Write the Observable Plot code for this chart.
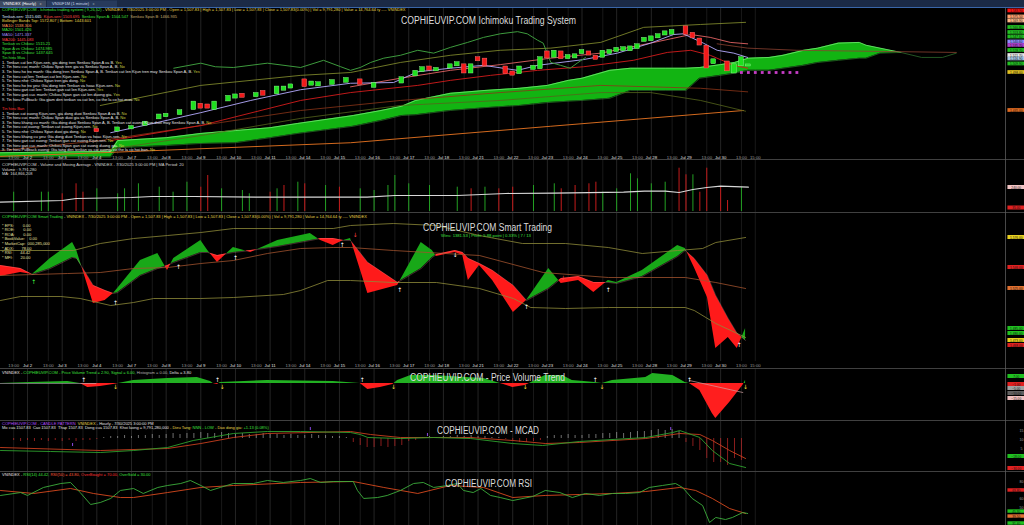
<!DOCTYPE html>
<html><head><meta charset="utf-8">
<script src="https://cdn.jsdelivr.net/npm/d3@7"></script>
<script src="https://cdn.jsdelivr.net/npm/@observablehq/plot@0.6"></script>
<style>
html,body{margin:0;padding:0;background:#000;overflow:hidden}
#root{position:relative;width:1024px;height:525px;background:#000;overflow:hidden}
#root > div{position:absolute;left:0}
#root svg{display:block}
</style></head>
<body><div id="root"></div>
<script>
// ================= DATA =================
const dayLabels = ["Jul 2","Jul 3","Jul 4","Jul 7","Jul 8","Jul 9","Jul 10","Jul 11","Jul 14","Jul 15","Jul 16","Jul 17","Jul 18","Jul 21","Jul 22","Jul 23","Jul 24","Jul 25","Jul 28","Jul 29","Jul 30"];

// Panel 1 – candles (bar index, open, close)
const candleIdx   = [15,18,20,22,24,25,27,29,30,31,32,34,35,36,38,39,41,42,43,45,46,47,49,51,53,55,59,61,62,63,64,66,67,68,69,70,71,74,75,76,78,79,80,81,82,83,84,85,86,87,88,89,90,91,92,93,94,95,96,97,98,100,101,102,103,104,106,107,108,109];
const candleOpen  = [1418,1417,1420,1425,1434,1437,1440,1447,1453,1452,1447,1459,1463,1467,1465,1471,1469,1474,1477,1487,1481,1480,1482,1485,1487,1478,1484,1494,1500,1505,1501,1505,1508,1508,1498,1518,1516,1505,1498,1497,1503,1504,1526,1520,1526,1518,1519,1525,1526,1520,1520,1525,1528,1529,1529,1532,1542,1543,1547,1551,1552,1561,1552,1544,1534,1511,1512,1498,1508,1507.83];
const candleClose = [1416,1420,1422,1428,1438,1439,1444,1456,1449,1449,1456,1464,1466,1464,1468,1467,1477,1477,1480,1479,1484,1483,1486,1489,1482,1482,1490,1499,1504,1502,1503,1508,1511,1498,1508,1515,1508,1497,1495,1505,1506,1518,1519,1527,1518,1521,1522,1528,1523,1517,1527,1528,1531,1532,1533,1536,1545,1547,1550,1554,1556,1552,1547,1537,1505,1515,1501,1508,1518,1507.83];

// Panel 1 – Ichimoku cloud (Senkou Span A / B)
const cloudIdx = [1,17,18,25,30,35,40,44,52,56,59,61,66,71,76,80,83,85,89,92,97,100,102,105,107,109,112,114,117,119,122,125,126,128,131];
const spanA    = [1386,1388,1403,1407,1413,1417,1421,1427,1438,1445,1451,1459,1469,1473,1476,1480,1487,1490,1501,1504,1504,1504,1505,1509,1512,1518,1519,1522,1529,1532,1539,1540,1536,1532,1526];
const spanB    = [1380,1380,1393,1396,1399,1400,1407,1413,1423,1431,1438,1439,1445,1449,1452,1456,1458,1459,1462,1473,1473,1473,1490,1494,1497,1501,1501,1504,1508,1512,1515,1518,1518,1525,1526];
const tailIdx  = [131,134,137,139];
const tailVal  = [1526,1519,1519,1525];

// Panel 1 – lines
const tenkanIdx = [17.0,22.7,30.0,37.2,44.4,51.6,57.8,61.3,66.0,70.8,75.7,78.6,85.2,90.1,94.9,98.2,99.6,102.5,104.5,106.9,108.9];
const tenkanVal = [1414,1426,1442,1459,1474,1483,1484,1499,1504,1508,1501,1508,1516,1525,1539,1551,1552,1539,1529,1525,1519];
const kijunIdx  = [17.0,30.0,44.4,51.6,61.3,66.0,71.8,78.6,85.2,92.4,97.3,100.7,103.5,106.9,108.9];
const kijunVal  = [1403,1424,1459,1470,1480,1487,1494,1501,1506,1515,1526,1529,1522,1508,1504];
const ma10Idx   = [51.6,58.8,66.0,73.2,80.5,87.7,94.9,100.7,103.5,106.4,108.9];
const ma10Val   = [1478,1490,1501,1509,1518,1525,1539,1551,1547,1540,1538];
const ma50Idx   = [1.1,15.5,30.0,44.4,58.8,73.2,87.7,102.1,108.9];
const ma50Val   = [1389,1403,1424,1445,1459,1470,1480,1476,1471];
const ma200Idx  = [1.1,15.5,51.6,80.5,108.3];
const ma200Val  = [1381,1386,1400,1423,1445];
const bbTopIdx  = [15.5,30.0,44.4,51.6,58.8,66.0,73.2,80.5,87.7,93.9,102.1,108.6];
const bbTopVal  = [1452,1480,1494,1498,1512,1522,1529,1532,1540,1561,1565,1568];
const bbBotIdx  = [15.5,30.0,44.4,58.8,73.2,87.7,94.9,102.1,108.6];
const bbBotVal  = [1389,1410,1434,1452,1459,1470,1470,1459,1444];
const chikouIdx = [26.1,30.0,32.1,34.7,39.6,44.4,47.7,50.2,51.6,53.0,54.5,56.4,58.8,61.3,63.6,66.0,68.5,70.8,73.2,75.7,77.1,78.6,79.4,80.5,81.9,83.3,84.3,85.5];
const chikouVal = [1504,1511,1506,1505,1511,1505,1515,1506,1501,1505,1512,1518,1522,1529,1525,1533,1540,1547,1552,1555,1552,1543,1539,1512,1508,1504,1511,1519];
const projIdx   = [104.5,108.9,116,139];
const projVal   = [1538,1532,1529,1526];
const dotIdx    = [108,109,110,111,112,113,114,115,116];
const dotVal    = 1498;
const p1LabVal  = [1583.9,1575.5,1569.9,1560.8,1553.8,1547.6,1540.6,1535.7,1528.7,1521.7,1516.9,1509.9,1498.0,1445.0];
const p1LabCol  = ["#ff1010","#ffa070","#ffb888","#22c022","#22c022","#22c022","#8c8cff","#b040d0","#22c022","#e8e8e8","#a8c8e8","#22c022","#e0c020","#e06a20"];

// Panel 2 – volume (million shares) & MA(20)
const volIdx = [3,7,8,10,12,13,15,18,19,21,24,26,28,30,31,33,36,37,40,41,42,44,45,48,50,53,55,57,58,60,63,67,69,71,73,75,78,81,82,84,86,87,88,90,92,93,95,97,99,100,101,102,103,105,106,108];
const volVal = [193,193,193,177,277,193,227,177,227,277,243,193,293,243,360,227,210,177,193,227,260,293,277,260,243,227,210,260,360,277,260,243,227,243,227,243,260,277,227,260,277,293,193,227,377,327,277,293,433,367,367,193,433,243,110,243];
const volUp  = [1,1,1,0,0,0,1,1,1,1,1,1,1,0,0,1,1,1,0,1,0,1,0,1,0,1,1,1,1,1,1,1,0,1,0,0,1,1,0,0,0,0,1,1,1,1,1,1,0,0,1,0,0,0,0,1];
const vmaIdx = [1,10,12,20,23,29,39,46,54,58,67,74,81,91,94,97,99,101,103,105,109];
const vmaVal = [93,110,130,140,150,150,143,143,143,160,160,180,183,193,203,203,190,220,240,253,243];

// Panel 3 – Smart Trading
const stIdx    = [1.1,4.0,5.7,8.3,11.5,12.1,14.5,16.2,17.4,18.0,21.3,23.8,25.2,26.1,30.0,31.0,32.4,34.7,37.2,41.1,45.8,47.3,49.1,50.6,51.6,54.1,58.4,61.8,63.4,64.0,66.7,67.8,68.6,70.2,72.1,75.1,77.0,80.2,82.0,84.5,86.7,88.8,90.0,93.7,98.8,99.9,101.2,103.1,104.3,106.1,107.4,108.6];
const stPrice  = [1537,1541,1539,1555,1571,1563,1510,1513,1520,1525,1553,1560,1543,1555,1573,1563,1551,1566,1561,1573,1580,1573,1568,1573,1575,1520,1528,1571,1563,1557,1561,1558,1533,1548,1533,1501,1513,1545,1530,1533,1521,1533,1531,1543,1568,1565,1546,1516,1465,1476,1465,1485];
const stSmooth = [1548,1545,1539,1545,1556,1555,1528,1523,1520,1521,1538,1545,1548,1551,1561,1561,1558,1561,1563,1567,1573,1575,1575,1573,1573,1551,1531,1545,1556,1559,1563,1561,1555,1550,1543,1528,1513,1525,1535,1537,1531,1531,1530,1537,1557,1563,1555,1538,1518,1495,1480,1473];
const upIdx  = [1.1,11.6,15.5,20.3,25.2,30.0,34.7,44.4,49.1,51.6,57.8,64.0,70.2,76.4,82.6,88.8,93.7,98.8,102.4,104.3,108.6];
const upVal  = [1563,1563,1570,1575,1578,1581,1585,1585,1585,1588,1590,1588,1578,1570,1570,1566,1560,1563,1565,1571,1576];
const midIdx = [1.1,10.8,15.5,20.3,25.2,30.0,34.7,39.6,44.4,49.1,51.6,57.8,70.2,79.4,88.8,99.9,104.3,108.6];
const midVal = [1538,1540,1541,1545,1546,1550,1553,1560,1565,1566,1566,1563,1558,1541,1536,1536,1531,1525];
const lowIdx = [1.1,4.0,9.8,12.6,17.0,20.3,23.2,30.0,34.7,41.9,44.4,48.3,51.6,57.8,64.0,70.2,75.1,77.6,82.6,88.8,95.0,99.9,101.2,104.3,107.4,108.6];
const lowVal = [1513,1517,1517,1515,1508,1511,1515,1515,1516,1519,1523,1533,1533,1531,1531,1525,1515,1506,1505,1506,1506,1506,1503,1490,1480,1476];
const stArrIdx = [5.9,17.7,26.8,35.0,50.4,52.3,58.7,66.7,77.0,82.3,88.8,107.7];
const stArrVal = [1531,1510,1546,1555,1568,1578,1523,1558,1506,1535,1523,1468];
const stArrTxt = ["↑","↑","↑","↑","↑","↓","↑","↓","↑","↓","↑","↑"];
const stArrCol = ["#40ff40","#ffffff","#ffffff","#ffffff","#ffffff","#ff4040","#ffffff","#ffffff","#ffffff","#ff4040","#ffffff","#ffffff"];
const p3LabVal = [1576,1546,1525,1485,1480,1473,1468];
const p3LabCol = ["#e8d020","#e02020","#e07030","#20c020","#20c020","#e8d020","#e02020"];
const stInfo = ["* EPS:        0.00","* ROE:        0.00","* ROA:        0.00","* BookValue:    0.00","* MarketCap:  000,285,000","* ADX:       78.00","* RSI:       44.42","* MFI:       20.00"];

// Panel 4 – Price Volume Trend
const pvtIdx = [1.1,5.4,10.8,12.6,13.7,15.5,17.4,20.3,25.2,29.5,31.4,31.8,32.4,32.8,39.6,49.1,53.0,54.1,55.9,57.7,58.4,60.3,63.6,70.8,73.2,73.7,75.0,76.8,77.4,79.7,82.2,83.6,86.9,87.9,89.4,94.2,95.2,98.1,99.9,100.5,102.0,103.8,104.3,106.3,108.2,108.6];
const pvtVal = [0,1,2,0,-4,-3,-1,3,5,6,2,0,-1,1,3,2,0,-6,-4,-1,3,8,8,5,0,-1,-4,-2,0,8,8,3,1,0,3,6,10,8,1,0,-7,-30,-35,-19,-2,3];
const pvtSigIdx = [100.5,108.2];
const pvtSigVal = [3,-9];
const pvtUpIdx = [13.1,32.4,53.3,86.9,100.5];
const pvtDnIdx = [17.7,33.1,57.8,76.8,87.9,108.6];
const p4LabVal = [7,-1,-5,-10,-15];
const p4LabCol = ["#20c020","#e02020","#a0a0a0","#606060","#f0c0c0"];

// Panel 5 – MACD
const macdIdx = [1.1,8.3,15.5,20.3,25.2,28.9,34.7,39.6,44.4,51.6,53.0,54.1,58.8,63.6,68.9,75.0,79.3,84.6,94.2,98.1,99.1,102.0,103.8,106.3,108.6];
const macdVal = [-12,-13,-14,-12,-9,-2,5,7,7,6,4,1,0,1,0,-5,-7,-3,1,6,8,1,-12,-25,-29];
const msigIdx = [1.1,15.5,25.2,30.0,34.7,39.6,51.6,54.5,58.8,68.9,75.0,79.7,84.6,94.2,99.1,102.0,103.8,106.3,108.6];
const msigVal = [-9,-12,-10,-5,1,5,7,4,1,1,-2,-5,-4,0,5,4,-2,-12,-20];
const histStart = 3;
const histVal = [-2,-3,-2,-3,-2,-3,-2, -3,-2,-3,-2,-2,-1, 1,2,2,3,2,3,3,4,3, 4,5,4,5,5,6,5,5,6,5,4,5,4, 4,5,4,4,3,4,3,3,4,3,3,2,2,1, -4,-7,-9,-9,-8,-9,-8,-7, -3,-2,1,2,1, 2,2,3,2,3,2,2,1,1,-1, -3,-4,-4,-3,-2, 2,3,3,4,3,3,4, 4,5,5,6,5,6,7,7,8,9,8,9,7, -4,-8,-12,-20,-24,-24,-27,-20,-22];
const purpIdx = [11.5,45.8,62.7,97.8];
const purpVal = [-5,11,5,11];
const p5TickVal = [8,-1,-10];
const p5TickTxt = ["15","10","5"];
const p5LabVal = [-18,-30];
const p5LabCol = ["#20c020","#e02020"];

// Panel 6 – RSI
const rsiIdx = [1.1,4.0,5.0,7.3,9.8,11.2,12.6,14.1,15.5,17.0,18.4,20.3,21.7,23.8,25.2,27.1,28.5,30.0,31.4,32.8,34.7,37.6,39.6,41.9,44.4,45.8,47.3,49.1,52.0,52.6,53.5,55.5,56.9,58.8,60.7,62.1,63.6,65.6,67.0,67.9,69.3,70.4,71.8,73.2,75.0,77.9,79.7,81.8,83.6,85.5,87.5,89.4,91.3,93.3,94.7,96.6,98.5,99.5,100.9,102.4,103.4,104.3,105.7,106.7,108.2,108.9];
const rsiVal = [64,67.4,64,73.3,77.9,79.1,67.4,53.5,55.8,60.5,69.8,72.1,66.3,73.3,75.6,77.9,81.4,75.6,69.8,73.3,77.9,77.9,81.4,79.1,81.4,83.7,79.1,80.2,80.2,69.8,60.5,61.6,64.0,69.8,77.9,79.1,73.3,75.6,77.9,69.8,67.4,72.1,64.0,61.6,58.1,62.8,69.8,67.4,61.6,66.3,64.0,66.3,66.3,67.4,73.3,75.6,77.9,73.3,60.5,52.3,32.6,38.4,36.0,38.4,44.2,43.0];
const rsigIdx = [1.1,5.9,11.2,14.5,18.4,20.3,25.2,30.0,34.7,44.4,52.0,56.4,61.3,66.0,70.8,75.0,79.7,84.6,89.4,94.2,99.1,101.4,103.8,106.3,108.6];
const rsigVal = [69.8,66.3,72.1,66.3,61.6,61.6,67.4,73.3,75.6,79.1,80.2,73.3,66.3,75.6,73.3,61.6,64.0,65.1,66.3,68.6,73.3,69.8,60.5,48.8,43.0];
const p6TickVal = [80,70,60,50,40];
const p6LabVal = [69.8,45.3,39.5,31.4];
const p6LabCol = ["#e02020","#20c020","#e07030","#20c020"];

// Panel 1 legend texts
const buyItems = [
 ["1. Tenkan cat len Kijun-sen, gia dong tren Senkou Span A va B. ","Yes"],
 ["2. Tin hieu cuc manh: Chikou Span tren gia va Senkou Span A, B. ","No"],
 ["3. Tin hieu ho tro manh: Gia dong tren Senkou Span A, B. Tenkan cat len Kijun tren may Senkou Span A, B. ","Yes"],
 ["4. Tin hieu cat len: Tenkan cat len Kijun-sen. ","No"],
 ["5. Tin hieu nhe: Chikou Span tren gia dong. ","No"],
 ["6. Tin hieu ho tro yeu: Gia dong tren Tenkan va hoac Kijun-sen. ","No"],
 ["7. Tin hieu gan cat len: Tenkan gan cat len Kijun-sen. ","Yes"],
 ["8. Tin hieu gan cuc manh: Chikou Span gan cat len duong gia. ","Yes"],
 ["9. Tin hieu Pullback: Gia giam den tenkan va cat len, co the la co hoi mua. ","No"]];
const sellItems = [
 ["1. Tenkan cat xuong Kijun-sen, gia dong duoi Senkou Span A va B. ","No"],
 ["2. Tin hieu cuc manh: Chikou Span duoi gia va Senkou Span A, B. ","No"],
 ["3. Tin hieu khang cu manh: Gia dong duoi Senkou Span A, B. Tenkan cat xuong Kijun duoi may Senkou Span A, B. ","No"],
 ["4. Tin hieu cat xuong: Tenkan cat xuong Kijun-sen. ","No"],
 ["5. Tin hieu nhe: Chikou Span duoi gia dong. ","No"],
 ["6. Tin hieu khang cu yeu: Gia dong duoi Tenkan va hoac Kijun-sen. ","No"],
 ["7. Tin hieu gan cat xuong: Tenkan gan cat xuong Kijun-sen. ","No"],
 ["8. Tin hieu gan cuc manh: Chikou Span gan cat xuong duong gia. ","No"],
 ["9. Tin hieu Pullback xuong: Gia tang den tenkan va cat xuong, co the la co hoi ban. ","No"]];

// ================= RENDER =================
const root = document.getElementById("root");
const G = "#1fe01f", R = "#f21a1a";
const XD = [1.1, 146.1];
const zip = (idx, val) => idx.map((i, k) => ({i, v: Array.isArray(val) ? val[k] : val}));

const tickIdx = [3], tickText = ["13:00"], tickDay = [false];
dayLabels.forEach((d, k) => { tickIdx.push(5 + 5 * k, 8 + 5 * k); tickText.push(d, "13:00"); tickDay.push(true, false); });
tickIdx.push(110); tickText.push("15:00"); tickDay.push(false);
const ticks = tickIdx.map((i, k) => ({i, t: tickText[k], day: tickDay[k]}));

function grid() { return Plot.ruleX(ticks, {x: "i", stroke: d => d.day ? "#343434" : "#242424", strokeWidth: 0.7}); }
function axisLabels(dy) {
  return Plot.text(ticks, {x: "i", text: "t", frameAnchor: "bottom", dy, fontSize: 4.3, fill: d => d.day ? "#e0e0e0" : "#9a9a9a", fontWeight: d => d.day ? "bold" : "normal", fontFamily: "Liberation Sans"});
}
function line(idx, val, stroke, w = 0.9, extra = {}) { return Plot.line(zip(idx, val), {x: "i", y: "v", stroke, strokeWidth: w, ...extra}); }
function rlabels(vals, cols, hh) {
  const d = vals.map((v, k) => ({v, c: cols[k], t: d3.format(",.2f")(v)}));
  return [Plot.rect(d, {x1: 146.45, x2: 148.85, y1: e => e.v - hh, y2: e => e.v + hh, fill: e => e.c}),
          Plot.text(d, {x: 147.65, y: "v", text: "t", fill: "#111", fontSize: 3.2, fontFamily: "Liberation Sans"})];
}
function splitFill(xs, a, b) {
  const pts = []; let seg = 0, cur = 0; const col = [];
  const push = (x, y1, y2) => pts.push({x, y1, y2, seg});
  for (let k = 0; k < xs.length; k++) {
    const d = a[k] - b[k], s = Math.sign(d);
    if (k > 0) {
      const dp = a[k - 1] - b[k - 1];
      if (dp * d < 0) {
        const t = dp / (dp - d), xc = xs[k - 1] + t * (xs[k] - xs[k - 1]), yc = a[k - 1] + t * (a[k] - a[k - 1]);
        push(xc, yc, yc); col[seg] = cur; seg++; cur = 0; push(xc, yc, yc);
      }
    }
    if (s === 0) { push(xs[k], a[k], b[k]); if (cur !== 0) { col[seg] = cur; seg++; cur = 0; push(xs[k], a[k], b[k]); } continue; }
    if (cur === 0) cur = s;
    push(xs[k], a[k], b[k]);
  }
  col[seg] = cur;
  return pts.map(p => ({...p, up: col[p.seg] >= 0}));
}
function panel(top, height, ydom, marks, mb = 0) {
  const svg = Plot.plot({
    width: 1024, height, marginLeft: 0, marginRight: 19, marginTop: 0, marginBottom: mb,
    x: {domain: XD, axis: null}, y: {domain: ydom, axis: null}, color: {type: "identity"},
    style: {background: "transparent", color: "#ccc", overflow: "hidden"},
    marks
  });
  const div = document.createElement("div"); div.style.top = top + "px"; div.appendChild(svg); root.appendChild(div);
}

// ---- Panel 1: Ichimoku ----
const candles = candleIdx.map((i, k) => ({i, o: candleOpen[k], c: candleClose[k]}));
const cloud = cloudIdx.map((i, k) => ({i, a: spanA[k], b: spanB[k]}));
panel(8, 152, [1383.6, 1587.3], [
  grid(),
  Plot.areaY(cloud, {x: "i", y1: "a", y2: "b", fill: "#12b412", curve: "linear"}),
  line(cloudIdx, spanA, "#72e872", 0.8),
  line(cloudIdx, spanB, "#2f8f2f", 0.6),
  line(tailIdx, tailVal, "#2c6a2c", 0.8),
  line(projIdx, projVal, "#8a4030", 0.8),
  line(ma200Idx, ma200Val, "#d2691e", 1),
  line(bbBotIdx, bbBotVal, "#56641c", 0.8),
  line(bbTopIdx, bbTopVal, "#8a9430", 0.8),
  line(ma50Idx, ma50Val, "#8b3518", 0.8),
  line(kijunIdx, kijunVal, "#d41c1c", 0.9),
  line(ma10Idx, ma10Val, "#ff7070", 0.8),
  line(tenkanIdx, tenkanVal, "#b4aaff", 0.9),
  line(chikouIdx, chikouVal, "#3d9a3d", 1),
  Plot.rect(candles, {x1: d => d.i - 0.34, x2: d => d.i + 0.34, y1: "o", y2: "c", insetTop: -1, insetBottom: -1,
    fill: d => d.c >= d.o ? G : R, stroke: d => d.c >= d.o ? "#9cff9c" : "#ff8080", strokeWidth: 0.4}),
  Plot.dot(zip(dotIdx, dotVal), {x: "i", y: "v", symbol: "square", r: 1.6, fill: "#c53cc5"}),
  axisLabels(4),
  ...rlabels(p1LabVal, p1LabCol, 2.6)
], 6);

// ---- Panel 2: Volume ----
const vols = volIdx.map((i, k) => ({i, v: volVal[k], up: volUp[k]}));
panel(160, 52, [-10, 510], [
  grid(),
  Plot.ruleX(vols, {x: "i", y1: 0, y2: "v", stroke: d => d.up ? "#23a023" : "#c41c1c", strokeWidth: 1}),
  line(vmaIdx, vmaVal, "#d8d8d8", 1.2),
  ...rlabels([240, 35], ["#f2c4c4", "#e02020"], 20)
]);

// ---- Panel 3: Smart Trading ----
const stFill = splitFill(stIdx, stPrice, stSmooth);
panel(213, 156, [1452, 1600], [
  grid(),
  Plot.areaY(stFill, {x: "x", y1: "y1", y2: "y2", z: "seg", fill: d => d.up ? "#18a818" : "#ff1a1a", curve: "linear"}),
  line(upIdx, upVal, "#8e8a38", 0.8),
  line(midIdx, midVal, "#a0522d", 0.8),
  line(lowIdx, lowVal, "#8e8a38", 0.8),
  line(stIdx, stSmooth, "#ffb0b0", 0.5, {strokeOpacity: 0.5}),
  Plot.text(stArrIdx.map((i, k) => ({i, v: stArrVal[k], t: stArrTxt[k], c: stArrCol[k]})), {x: "i", y: "v", text: "t", fill: "c", fontSize: 6, fontFamily: "DejaVu Sans"}),
  axisLabels(5),
  ...rlabels(p3LabVal, p3LabCol, 2)
], 8);

// ---- Panel 4: Price Volume Trend ----
const pvtFill = splitFill(pvtIdx, pvtVal, pvtVal.map(() => 0));
panel(369, 51, [-37, 14], [
  grid(),
  Plot.areaY(pvtFill, {x: "x", y1: "y1", y2: "y2", z: "seg", fill: d => d.up ? "#22b022" : "#ff1e1e", curve: "linear"}),
  Plot.ruleY([0], {x1: 1.1, x2: 15, stroke: "#bbbbbb", strokeWidth: 0.6}),
  line(pvtSigIdx, pvtSigVal, "#d0a0a0", 0.7),
  Plot.text(pvtUpIdx, {x: d => d, y: 3.5, text: () => "↑", fill: "#ffffff", fontSize: 6, fontFamily: "DejaVu Sans"}),
  Plot.text(pvtDnIdx, {x: d => d, y: -4, text: () => "↓", fill: "#ffe040", fontSize: 6, fontFamily: "DejaVu Sans"}),
  ...rlabels(p4LabVal, p4LabCol, 2)
]);

// ---- Panel 5: MACD ----
const hist = histVal.map((v, k) => ({i: histStart + k, v}));
panel(421, 50, [-33, 17], [
  grid(),
  Plot.ruleX(hist, {x: "i", y1: 0, y2: "v", stroke: d => d.v >= 0 ? "#b8b8b8" : "#e83030", strokeWidth: 0.6}),
  Plot.ruleX(zip(purpIdx, purpVal), {x: "i", y1: "v", y2: d => d.v - 3, stroke: "#9a50ff", strokeWidth: 0.9}),
  line(msigIdx, msigVal, "#c8401e", 0.9),
  line(macdIdx, macdVal, "#2ea02e", 0.9),
  Plot.text(p5TickVal, {x: 148.4, y: d => d, text: (d, k) => p5TickTxt[k], fill: "#9a9a9a", fontSize: 3.6, fontFamily: "Liberation Sans"}),
  ...rlabels(p5LabVal, p5LabCol, 2)
]);

// ---- Panel 6: RSI ----
panel(472, 53, [29.07, 90.7], [
  grid(),
  line(rsigIdx, rsigVal, "#d84a1e", 0.9),
  line(rsiIdx, rsiVal, "#3cae3c", 0.9),
  Plot.text(p6TickVal, {x: 148.4, y: d => d, text: d => String(d), fill: "#9a9a9a", fontSize: 3.6, fontFamily: "Liberation Sans"}),
  ...rlabels(p6LabVal, p6LabCol, 2)
]);

// ---- overlay: chrome, headers, titles ----
const ov = d3.select(root).append("svg").attr("width", 1024).attr("height", 525)
  .style("position", "absolute").style("left", 0).style("top", 0).style("pointer-events", "none");
ov.append("rect").attr("x", 0).attr("y", 0).attr("width", 1024).attr("height", 7).attr("fill", "#1b2a46");
ov.append("rect").attr("x", 0).attr("y", 0.5).attr("width", 46).attr("height", 6.5).attr("fill", "#3d4a62");
ov.append("rect").attr("x", 47).attr("y", 0.5).attr("width", 70).attr("height", 6.5).attr("fill", "#273a5c");
ov.append("rect").attr("x", 0).attr("y", 7).attr("width", 1024).attr("height", 1).attr("fill", "#3a66a8");
const F = "Liberation Sans, Arial, sans-serif";
function rich(x, y, segs, size = 4) {
  const t = ov.append("text").attr("x", x).attr("y", y).attr("font-size", size).attr("font-family", F).style("white-space", "pre");
  segs.forEach(([s, c]) => t.append("tspan").attr("fill", c).text(s));
  return t;
}
rich(3, 5.2, [["VNINDEX (Hourly)", "#ffffff"], ["   x", "#bbbbbb"]], 4);
rich(52, 5.2, [["VN30F1M (1 minute)", "#d0d8e8"], ["   x", "#9aa"]], 4);
[159.5, 212.5, 368.5, 420.5, 471.5].forEach(y => ov.append("line").attr("x1", 0).attr("x2", 1024).attr("y1", y).attr("y2", y).attr("stroke", "#505050").attr("stroke-width", 0.8));
ov.append("line").attr("x1", 1005.5).attr("x2", 1005.5).attr("y1", 8).attr("y2", 525).attr("stroke", "#5a5a5a").attr("stroke-width", 0.8);

const hdr = "VNINDEX - 7/30/2025 3:00:00 PM - Open = 1,507.83 | High = 1,507.83 | Low = 1,507.83 | Close = 1,507.83(0.00%) | Vol = 9,791,280 | Value = 14,764.64 ty ---- VNINDEX";
rich(2, 11, [["COPHIEUVIP.COM - Ichimoku trading system ( 9,26,52)", "#3ee03e"], [" - ", "#ddd"], [hdr, "#e8d84a"]]);
const rowY = k => 17.5 + 4.62 * k;
rich(2, rowY(0), [["Tenkan-sen: 1515.665  ", "#d8e4ff"], ["Kijun-sen: 1503.695  ", "#ff4a4a"], ["Senkou Span A: 1504.547  ", "#3ee03e"], ["Senkou Span B: 1466.935", "#c8b070"]]);
rich(2, rowY(1), [["Bollinger Bands Top: 1572.807 | Bottom: 1443.601", "#e8d84a"]]);
rich(2, rowY(2), [["MA10: 1538.306", "#ff9a5a"]]);
rich(2, rowY(3), [["MA20: 1501.426", "#3ee03e"]]);
rich(2, rowY(4), [["MA50: 1471.337", "#a58cff"]]);
rich(2, rowY(5), [["MA200: 1445.083", "#ff4040"]]);
rich(2, rowY(6), [["Tenkan vs Chikou: 1515.21", "#3ee03e"]]);
rich(2, rowY(7), [["Span A vs Chikou: 1474.985", "#3ee03e"]]);
rich(2, rowY(8), [["Span B vs Chikou: 1437.645", "#3ee03e"]]);
rich(2, rowY(9), [["Tin hieu Mua", "#3ee03e"]]);
buyItems.forEach((b, k) => rich(2, rowY(10 + k), [[b[0], "#e6e6e6"], [b[1], "#c8d040"]]));
rich(2, rowY(20), [["Tin hieu Ban", "#ff3030"]]);
sellItems.forEach((b, k) => rich(2, rowY(21 + k), [[b[0], "#e6e6e6"], [b[1], "#c8d040"]]));

rich(2, 166, [["COPHIEUVIP.COM - Volume and Moving Average - VNINDEX - 7/30/2025 3:00:00 PM | MA Period: 20", "#d8d8d8"]]);
rich(2, 170.6, [["Volume : 9,791,280", "#d8d8d8"]]);
rich(2, 175.2, [["MA: 164,866,208", "#d8d8d8"]]);

rich(2, 217.5, [["COPHIEUVIP.COM Smart Trading", "#3ee03e"], [" - ", "#ddd"], [hdr, "#e8d84a"]]);
stInfo.forEach((s, k) => rich(2, 226.5 + 4.6 * k, [[s, "#e8e0a0"]]));
rich(441, 237, [["Wins: 1381.53 | Profit: 5.88 point | 0.33% | 7 / 13", "#3ee03e"]], 4.2);

rich(2, 374, [["VNINDEX - ", "#e0e0e0"], ["COPHIEUVIP.COM - Price Volume Trend = 2.90, ", "#3ee03e"], ["Signal = 6.00, ", "#3ee03e"], ["Histogram = 0.00, ", "#b0b0b0"], ["Delta = 3.80", "#e0e0e0"]]);

rich(2, 424.5, [["COPHIEUVIP.COM - CANDLE PATTERN", "#b04cff"], ["  VNINDEX", "#e8d84a"], [" - Hourly - 7/30/2025 3:00:00 PM", "#e0e0e0"]]);
rich(2, 429, [["Mo cua 1507.83  Cao 1507.83  Thap 1507.83  Dong cua 1507.83  Khoi luong = 9,791,280,000 ", "#e0e0e0"], ["- Dieu Tang: ", "#e8d84a"], ["NNN - LOW", "#3ee03e"], [" - Dao dong gia: ", "#e8d84a"], ["+1.13 (0.08%)", "#3ee03e"]]);

rich(2, 476, [["VNINDEX - ", "#e0e0e0"], ["RSI(14) 44.42, ", "#3ee03e"], ["RSI(50) = 43.80, ", "#ff5a3a"], ["OverBought = 70.00, ", "#ff3030"], ["OverSold = 30.00", "#3ee03e"]]);

function title(x, y, w, s) {
  ov.append("text").attr("x", x).attr("y", y).attr("font-size", 10).attr("font-family", F).attr("fill", "#dcdcdc")
    .attr("textLength", w).attr("lengthAdjust", "spacingAndGlyphs").text(s);
}
title(401, 23.5, 175, "COPHIEUVIP.COM Ichimoku Trading System");
title(423, 231, 129, "COPHIEUVIP.COM Smart Trading");
title(410, 381, 155, "COPHIEUVIP.COM - Price Volume Trend");
title(437, 434, 102, "COPHIEUVIP.COM - MCAD");
title(445, 486.5, 87, "COPHIEUVIP.COM RSI");
</script></body></html>
